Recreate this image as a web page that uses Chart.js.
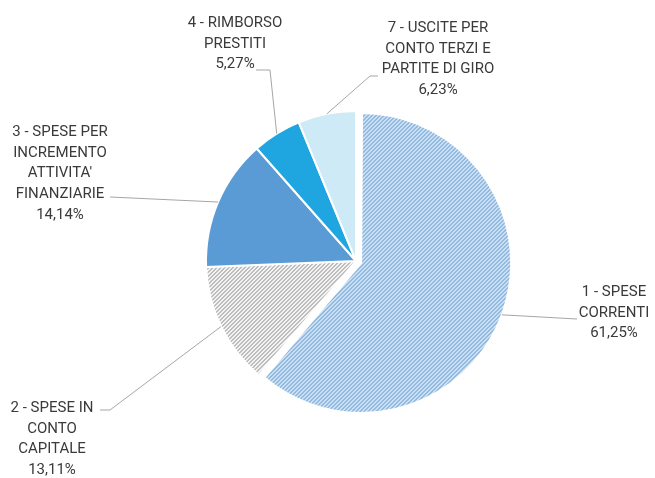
<!DOCTYPE html>
<html>
<head>
<meta charset="utf-8">
<script src="https://cdn.jsdelivr.net/npm/chart.js@4.4.1/dist/chart.umd.min.js"></script>
<style>
  html, body { margin: 0; padding: 0; background: #fff; }
</style>
</head>
<body>
<canvas id="spesechart" width="655" height="478"></canvas>
<script>
// TITOLI DI SPESA - TORTA

const categorie = [
    ["1 - SPESE", "CORRENTI"],
    ["2 - SPESE IN", "CONTO", "CAPITALE"],
    ["3 - SPESE PER", "INCREMENTO", "ATTIVITA'", "FINANZIARIE"],
    ["4 - RIMBORSO", "PRESTITI"],
    ["7 - USCITE PER", "CONTO TERZI E", "PARTITE DI GIRO"],
];
const percentuali = [61.25, 13.11, 14.14, 5.27, 6.23];

// posizione delle etichette: centro testo, prima riga, gomito della linea guida
const posEtichette = [
    { x: 614, y: 292, gomito: [[577, 319]] },
    { x: 52, y: 408, gomito: [[100, 410], [110, 410]] },
    { x: 60, y: 132, gomito: [[110, 197]] },
    { x: 235, y: 23, gomito: [[256, 70], [270, 70]] },
    { x: 438, y: 28, gomito: [[378, 76], [370, 76]] },
];

// riempimento a righe oblique
function tratteggio(fondo, linea) {
    const t = document.createElement("canvas");
    t.width = 4;
    t.height = 4;
    const g = t.getContext("2d");
    g.fillStyle = fondo;
    g.fillRect(0, 0, 4, 4);
    g.fillStyle = linea;
    for (let i = 0; i < 4; i++) {
        g.fillRect(i, 3 - i, 1, 1);
        g.fillRect((i + 1) % 4, 3 - i, 1, 1);
    }
    return g.createPattern(t, "repeat");
}

const colori = [
    tratteggio("#d3e5f5", "#8cb5e0"),
    tratteggio("#f3f3f3", "#bdbdbd"),
    "#5b9bd5",
    "#1fa5df",
    "#cfeaf7",
];

// allargamento del raggio che chart.js applica agli spicchi staccati
function extraRaggio(arc) {
    const off = (arc.options.offset || 0) / 4;
    return off * (1 - Math.sin(Math.min(Math.PI, arc.circumference)));
}

const etichette = {
    id: "etichette",
    // lo spicchio staccato mantiene lo stesso raggio degli altri
    afterDatasetsUpdate(chart) {
        chart.getDatasetMeta(0).data.forEach((arc) => {
            arc.outerRadius -= extraRaggio(arc);
        });
    },
    afterDatasetsDraw(chart) {
        const c = chart.ctx;
        const arcs = chart.getDatasetMeta(0).data;
        c.save();
        arcs.forEach((arc, i) => {
            const p = posEtichette[i];
            const off = (arc.options.offset || 0) / 4;
            const mid = (arc.startAngle + arc.endAngle) / 2;
            const r = arc.outerRadius + extraRaggio(arc) + off;
            const ax = arc.x + Math.cos(mid) * r;
            const ay = arc.y + Math.sin(mid) * r;

            c.strokeStyle = "#a6a6a6";
            c.lineWidth = 1;
            c.beginPath();
            p.gomito.forEach((pt, k) => (k ? c.lineTo(pt[0], pt[1]) : c.moveTo(pt[0], pt[1])));
            c.lineTo(ax, ay);
            c.stroke();

            const righe = categorie[i].concat(percentuali[i].toFixed(2).replace(".", ",") + "%");
            c.fillStyle = "#3a3a3a";
            c.font = "15px Roboto, sans-serif";
            c.textAlign = "center";
            c.textBaseline = "middle";
            righe.forEach((t, k) => c.fillText(t, p.x, p.y + k * 20.8));
        });
        c.restore();
    },
};

const SPESE = document.getElementById("spesechart");

new Chart(SPESE, {
    type: "pie",
    data: {
        labels: categorie,
        datasets: [
            {
                data: percentuali,
                backgroundColor: colori,
                borderColor: "#ffffff",
                borderWidth: 2,
                offset: [22, 0, 0, 0, 0],
                radius: 150,
            },
        ],
    },
    options: {
        responsive: false,
        animation: false,
        layout: {
            padding: { left: 57, top: 44, right: 0, bottom: 0 },
        },
        plugins: {
            legend: { display: false },
            tooltip: { enabled: false },
        },
    },
    plugins: [etichette],
});
</script>
</body>
</html>
